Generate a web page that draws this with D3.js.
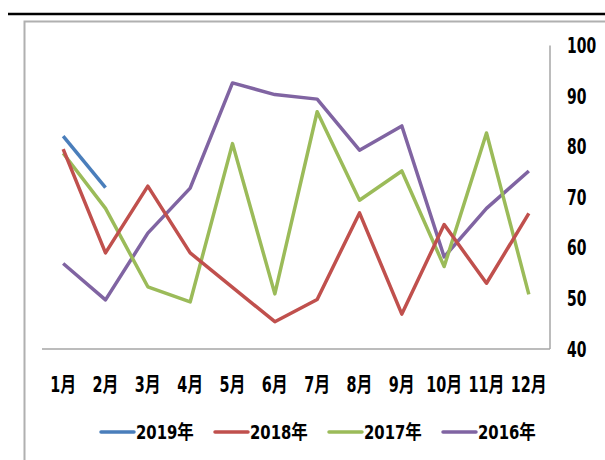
<!DOCTYPE html>
<html>
<head>
<meta charset="utf-8">
<script src="https://cdn.jsdelivr.net/npm/d3@7"></script>
<style>
  body { margin: 0; background: #fff; }
  text { font-family: "DejaVu Sans Condensed", "Noto Sans CJK SC", sans-serif; font-weight: bold; fill: #000; }
</style>
</head>
<body>
<svg id="chart" width="605" height="460"></svg>
<script>
var months = ['1月', '2月', '3月', '4月', '5月', '6月', '7月', '8月', '9月', '10月', '11月', '12月'];
var yTicks = [40, 50, 60, 70, 80, 90, 100];

var v2019 = [82.1, 71.9];
var v2018 = [79.5, 59.0, 72.2, 59.0, 52.2, 45.4, 49.8, 66.9, 46.9, 64.6, 53.0, 66.8];
var v2017 = [78.7, 67.8, 52.3, 49.3, 80.6, 50.9, 86.9, 69.4, 75.2, 56.3, 82.7, 50.8];
var v2016 = [56.9, 49.7, 62.9, 71.8, 92.6, 90.3, 89.4, 79.3, 84.1, 58.2, 67.8, 75.2];

var seriesNames = ['2019年', '2018年', '2017年', '2016年'];
var seriesColors = ['#4a7ebb', '#c0504d', '#9bbb59', '#8064a2'];
var seriesValues = [v2019, v2018, v2017, v2016];

var svg = d3.select('#chart');

// header rule and outer frame
svg.append('line').attr('x1', 8).attr('x2', 605).attr('y1', 14).attr('y2', 14)
   .attr('stroke', '#000').attr('stroke-width', 2.5);
svg.append('path').attr('d', 'M24.5,460 V21.5 H605')
   .attr('fill', 'none').attr('stroke', '#b0b0b0').attr('stroke-width', 2);

var x = d3.scaleBand().domain(months).range([42, 550]);
var y = d3.scaleLinear().domain([40, 100]).range([349, 45.5]);

// axes lines
svg.append('line').attr('x1', 42).attr('x2', 550).attr('y1', y(40)).attr('y2', y(40))
   .attr('stroke', '#a6a6a6').attr('stroke-width', 1.5);
svg.append('line').attr('x1', 550).attr('x2', 550).attr('y1', y(100)).attr('y2', y(40))
   .attr('stroke', '#a6a6a6').attr('stroke-width', 1.5);

// y labels (right), stretched a little to look like the narrow bold face
svg.selectAll('.ytick').data(yTicks).enter().append('text')
   .attr('class', 'ytick')
   .attr('transform', function(d) { return 'translate(567,' + (y(d) + 7.5) + ') scale(1,1.35)'; })
   .attr('font-size', 15.5)
   .text(function(d) { return d; });

// x labels
svg.selectAll('.xtick').data(months).enter().append('text')
   .attr('class', 'xtick')
   .attr('transform', function(d) { return 'translate(' + (x(d) + x.bandwidth() / 2) + ',392) scale(1,1.3)'; })
   .attr('text-anchor', 'middle')
   .attr('font-size', 16)
   .text(function(d) { return d; });

var line = d3.line()
  .x(function(d, i) { return x(months[i]) + x.bandwidth() / 2; })
  .y(function(d) { return y(d); });

// draw oldest first so 2019 sits on top
for (var k = seriesValues.length - 1; k >= 0; k--) {
  svg.append('path')
     .attr('d', line(seriesValues[k]))
     .attr('fill', 'none')
     .attr('stroke', seriesColors[k])
     .attr('stroke-width', 3.5)
     .attr('stroke-linejoin', 'round');
}

// legend
var legendX = [101, 215, 329, 443];
var lg = svg.selectAll('.legend').data(seriesNames).enter().append('g')
   .attr('class', 'legend')
   .attr('transform', function(d, i) { return 'translate(' + legendX[i] + ',432)'; });
lg.append('line').attr('x1', 0).attr('x2', 33).attr('y1', 0).attr('y2', 0)
   .attr('stroke', function(d, i) { return seriesColors[i]; })
   .attr('stroke-width', 3.5).attr('stroke-linecap', 'round');
lg.append('text').attr('transform', 'translate(35,7) scale(1,1.2)').attr('font-size', 16.5)
   .text(function(d) { return d; });
</script>
</body>
</html>
